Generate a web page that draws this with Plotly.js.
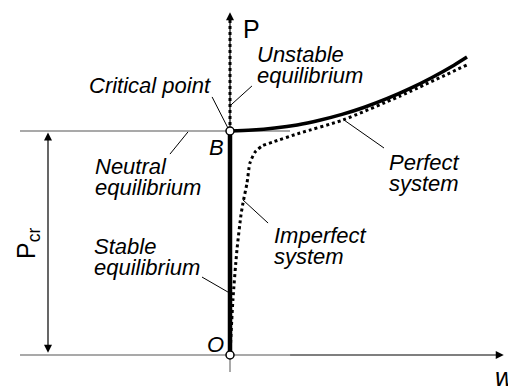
<!DOCTYPE html>
<html>
<head>
<meta charset="utf-8">
<script src="https://cdn.plot.ly/plotly-3.0.1.min.js"></script>
<style>
  html, body { margin: 0; padding: 0; background: #fff; }
  #chart { width: 508px; height: 388px; }
</style>
</head>
<body>
<div id="chart"></div>
<script>
// Load P against lateral deflection w, with P normalised so that P_cr = 1.

// Perfect system: post-buckling branch rising from the critical point B
const perfectW = [0, 0.1, 0.2, 0.3, 0.4, 0.5, 0.6, 0.7, 0.8, 0.9, 1.0, 1.058];
const perfectP = [1.000, 1.004, 1.013, 1.027, 1.048, 1.074, 1.106, 1.144, 1.188, 1.238, 1.294, 1.330];

// Imperfect system: deflects from the start, bends over near P_cr
const imperfectW = [0, 0.013, 0.031, 0.049, 0.058, 0.076, 0.089, 0.112, 0.143, 0.192, 0.3125, 0.504, 0.759, 1.058];
const imperfectP = [0, 0.246, 0.469, 0.625, 0.679, 0.768, 0.857, 0.906, 0.933, 0.951, 0.991, 1.049, 1.156, 1.295];

// Straight (undeflected) equilibrium path O -> B, and its unstable continuation above B
const stableW = [0, 0];
const stableP = [0, 1];
const unstableW = [0, 0];
const unstableP = [1, 1.504];

// Marked points O and B
const pointW = [0, 0];
const pointP = [0, 1];

const FONT = 'Liberation Sans, Arial, sans-serif';
const GREY = '#8c8c8c';

// Arrowheads for the axes and the P_cr dimension line (tip positions)
const headX = [1.222, 0, -0.8125, -0.8125];
const headY = [0, 1.530, 0.993, 0.010];
const headSymbol = ['arrow-right', 'arrow-up', 'arrow-up', 'arrow-down'];

const traces = [
  { x: stableW, y: stableP, mode: 'lines', line: { color: '#000', width: 4.5 }, hoverinfo: 'skip' },
  { x: unstableW, y: unstableP, mode: 'lines', line: { color: '#000', width: 3, dash: '3px,3px' }, hoverinfo: 'skip' },
  { x: imperfectW, y: imperfectP, mode: 'lines', line: { color: '#000', width: 3, dash: '3px,3px', shape: 'spline', smoothing: 0.6 }, hoverinfo: 'skip' },
  { x: perfectW, y: perfectP, mode: 'lines', line: { color: '#000', width: 3.5, shape: 'spline' }, hoverinfo: 'skip' },
  { x: pointW, y: pointP, mode: 'markers', marker: { size: 8, color: '#fff', line: { color: '#000', width: 1.5 } }, hoverinfo: 'skip' },
  { x: headX, y: headY, mode: 'markers', marker: { symbol: headSymbol, size: 8, color: '#000', line: { width: 0 } }, hoverinfo: 'skip' }
];

function seg(x0, y0, x1, y1, color, width, layer) {
  return { type: 'line', xref: 'x', yref: 'y', x0: x0, y0: y0, x1: x1, y1: y1,
           line: { color: color, width: width }, layer: layer || 'below' };
}

const shapes = [
  // grey reference lines at P = 0 and P = P_cr, and stub below O
  seg(-0.9375, 0, 0.268, 0, GREY, 1.5),
  seg(-0.9375, 1, 0.268, 1, GREY, 1.5),
  seg(0, 0, 0, -0.076, GREY, 1.5),
  // w axis and P axis
  seg(0.268, 0, 1.20, 0, '#000', 1.2),
  seg(0, 1, 0, 1.51, '#000', 1.2),
  // P_cr dimension line
  seg(-0.8125, 0.02, -0.8125, 0.98, '#000', 1.2),
  // leader lines to the labels
  seg(-0.009, 1.013, -0.080, 1.152, '#000', 1, 'above'),
  seg(0.004, 1.116, 0.098, 1.201, '#000', 1, 'above'),
  seg(-0.1875, 0.996, -0.268, 0.897, '#000', 1, 'above'),
  seg(-0.009, 0.281, -0.125, 0.348, '#000', 1, 'above'),
  seg(0.058, 0.692, 0.170, 0.589, '#000', 1, 'above'),
  seg(0.509, 1.049, 0.6875, 0.924, '#000', 1, 'above')
];

function label(text, x, y, anchor, size, italic, yanchor) {
  return {
    x: x, y: y, xref: 'x', yref: 'y', showarrow: false,
    text: italic === false ? text : '<i>' + text + '</i>',
    xanchor: anchor, yanchor: yanchor || 'middle', align: 'left',
    font: { family: FONT, size: size || 22, color: '#000' }
  };
}
function block(text, x, top) {
  return label(text, x, top, 'left', 22, true, 'top');
}

const annotations = [
  label('Critical point', -0.076, 1.205, 'right'),
  block('Unstable<br>equilibrium', 0.1116, 1.407),
  block('Neutral<br>equilibrium', -0.612, 0.907),
  block('Stable<br>equilibrium', -0.616, 0.550),
  block('Imperfect<br>system', 0.1875, 0.599),
  block('Perfect<br>system', 0.701, 0.925),
  label('B', -0.060, 0.926, 'center'),
  label('O', -0.065, 0.047, 'center'),
  label('P', 0.096, 1.455, 'center', 25, false),
  label('w', 1.174, -0.098, 'left', 26),
  Object.assign(label('P<sub>cr</sub>', -0.902, 0.5, 'center', 25, false), { textangle: -90 })
];

const layout = {
  width: 508, height: 388,
  margin: { l: 0, r: 0, t: 0, b: 0, pad: 0 },
  paper_bgcolor: '#fff', plot_bgcolor: '#fff',
  showlegend: false,
  xaxis: { range: [-1.0268, 1.2411], visible: false, fixedrange: true },
  yaxis: { range: [-0.1473, 1.5848], visible: false, fixedrange: true },
  shapes: shapes,
  annotations: annotations
};

Plotly.newPlot('chart', traces, layout, { staticPlot: true, displayModeBar: false }).then(function (gd) {
  // tighten the line pitch of the two-line labels
  gd.querySelectorAll('.annotation-text').forEach(function (t) {
    const lines = t.querySelectorAll('tspan.line');
    if (lines.length > 1) {
      lines.forEach(function (ln, i) { ln.setAttribute('dy', (i * 0.96) + 'em'); });
    }
  });
});
</script>
</body>
</html>
